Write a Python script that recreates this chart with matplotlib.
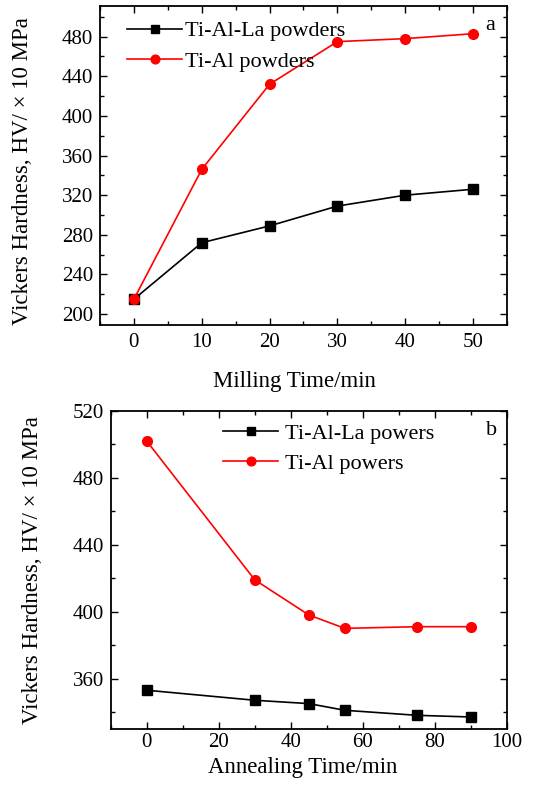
import matplotlib
matplotlib.use("Agg")
import matplotlib.pyplot as plt
from matplotlib.ticker import MultipleLocator

plt.rcParams['font.family'] = ['Liberation Serif', 'DejaVu Serif']

# Panel a data
mill_time = [0, 10, 20, 30, 40, 50]
mill_tialla = [215, 272, 289, 309, 320, 326]
mill_tial = [215, 346, 432, 475, 478, 483]

# Panel b data
anneal_time = [0, 30, 45, 55, 75, 90]
anneal_tialla = [353, 347, 345, 341, 338, 337]
anneal_tial = [502, 419, 398, 390, 391, 391]

ylabel = "Vickers Hardness, HV/ × 10 MPa"

fig = plt.figure(figsize=(5.33, 7.93), dpi=100)
ax1 = fig.add_axes([0.1876, 0.5902, 0.7636, 0.4023])
ax2 = fig.add_axes([0.2077, 0.0811, 0.7435, 0.4006])

def style(ax, xpad):
    ax.tick_params(which='both', direction='in', top=True, right=True, labelsize=15, width=1)
    ax.tick_params(which='major', length=5)
    ax.tick_params(which='minor', length=3)
    ax.tick_params(axis='y', which='major', pad=5)
    ax.tick_params(axis='x', which='major', pad=xpad)
    for s in ax.spines.values():
        s.set_linewidth(1.3)

ax1.plot(mill_time, mill_tialla, color='black', marker='s', markersize=6.5, lw=1.2, label='Ti-Al-La powders')
ax1.plot(mill_time, mill_tial, color='red', marker='o', markersize=7, lw=1.2, label='Ti-Al powders')
ax1.set_xlim(-5, 55)
ax1.set_ylim(189, 511)
ax1.xaxis.set_major_locator(MultipleLocator(10))
ax1.xaxis.set_minor_locator(MultipleLocator(5))
ax1.yaxis.set_major_locator(MultipleLocator(40))
ax1.yaxis.set_minor_locator(MultipleLocator(20))
style(ax1, 5.5)
ax1.set_xlabel("Milling Time/min", fontsize=16.5)
ax1.set_ylabel(ylabel, fontsize=16.5)
ax1.xaxis.set_label_coords(0.477, -0.145)
ax1.yaxis.set_label_coords(-0.165, 0.481)
ax1.legend(loc='upper left', bbox_to_anchor=(0.066, 0.953), frameon=False, fontsize=16,
           handlelength=2.5, handletextpad=0.1, labelspacing=0.45, borderaxespad=0, borderpad=0,
           markerscale=0.9)
ax1.text(0.97, 0.97, 'a', transform=ax1.transAxes, ha='right', va='top', fontsize=16)

ax2.plot(anneal_time, anneal_tialla, color='black', marker='s', markersize=6.5, lw=1.2, label='Ti-Al-La powers')
ax2.plot(anneal_time, anneal_tial, color='red', marker='o', markersize=7, lw=1.2, label='Ti-Al powers')
ax2.set_xlim(-10, 100)
ax2.set_ylim(330, 520)
ax2.xaxis.set_major_locator(MultipleLocator(20))
ax2.xaxis.set_minor_locator(MultipleLocator(10))
ax2.yaxis.set_major_locator(MultipleLocator(40))
ax2.yaxis.set_minor_locator(MultipleLocator(20))
style(ax2, 3)
ax2.set_xlabel("Annealing Time/min", fontsize=16.5)
ax2.set_ylabel(ylabel, fontsize=16.5)
ax2.xaxis.set_label_coords(0.485, -0.089)
ax2.yaxis.set_label_coords(-0.171, 0.5)
ax2.legend(loc='upper left', bbox_to_anchor=(0.283, 0.962), frameon=False, fontsize=16,
           handlelength=2.5, handletextpad=0.3, labelspacing=0.45, borderaxespad=0, borderpad=0,
           markerscale=0.9)
ax2.text(0.975, 0.97, 'b', transform=ax2.transAxes, ha='right', va='top', fontsize=16)

fig.savefig("out.png", dpi=100)
